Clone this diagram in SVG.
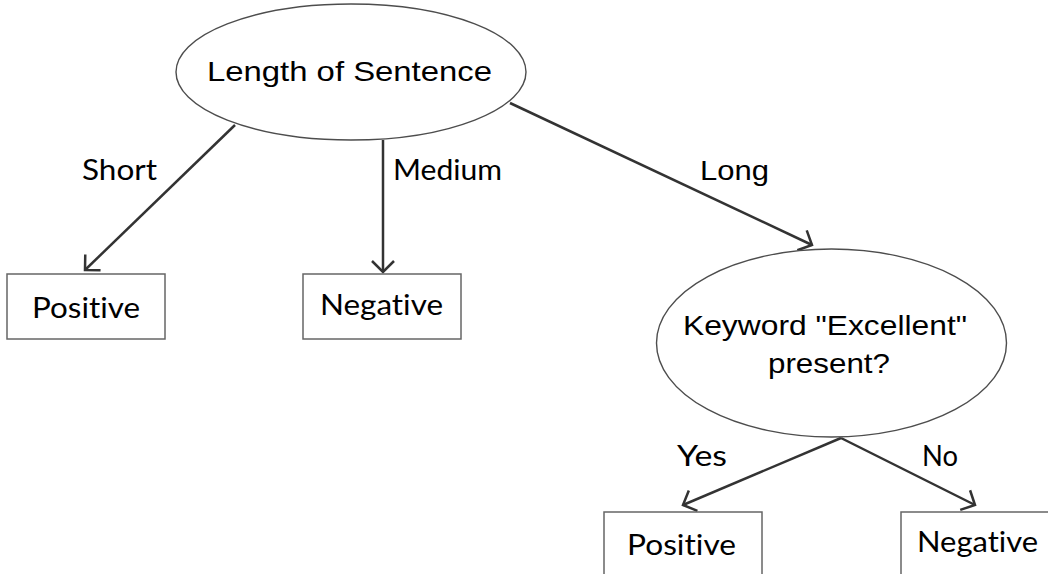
<svg xmlns="http://www.w3.org/2000/svg" width="1048" height="574" viewBox="0 0 1048 574">
  <style>
    .bg { fill: #ffffff; }
    .ell { fill: #ffffff; stroke: #4d4d4d; stroke-width: 1.4; }
    .box { fill: #ffffff; stroke: #666666; stroke-width: 1.5; }
    .edge { fill: none; stroke: #333333; stroke-width: 2.5; }
    .t { font-family: "Liberation Sans", Arial, sans-serif; font-size: 28px; fill: #000000; text-anchor: middle; }
    .r { font-family: Lato, "Liberation Sans", sans-serif; font-size: 28px; fill: #000000; text-anchor: middle; font-variant-ligatures: none; }
  </style>
  <defs>
    <marker id="chev" markerUnits="userSpaceOnUse" markerWidth="30" markerHeight="30" viewBox="-15 -15 30 30" refX="0" refY="0" orient="auto">
      <path d="M-11,-11 L0,0 L-11,11" fill="none" stroke="#333333" stroke-width="2.5" stroke-linejoin="miter"/>
    </marker>
  </defs>
  <rect class="bg" x="0" y="0" width="1048" height="574"/>

  <!-- connectors and their labels -->
  <g id="connectors">
    <line class="edge" x1="235" y1="125" x2="85" y2="270" marker-end="url(#chev)"/>
    <line class="edge" x1="383" y1="140" x2="383" y2="272" marker-end="url(#chev)"/>
    <line class="edge" x1="510" y1="103" x2="812" y2="245" marker-end="url(#chev)"/>
    <line class="edge" x1="841" y1="438" x2="683" y2="505" marker-end="url(#chev)"/>
    <line class="edge" x1="841" y1="438" x2="975" y2="505" marker-end="url(#chev)"/>
    <text class="r" x="119.5" y="180" textLength="75" lengthAdjust="spacingAndGlyphs">Short</text>
    <text class="r" x="447.5" y="180" textLength="109" lengthAdjust="spacingAndGlyphs">Medium</text>
    <text class="t" x="734.5" y="180" textLength="69" lengthAdjust="spacingAndGlyphs">Long</text>
    <text class="r" x="702" y="466" textLength="50" lengthAdjust="spacingAndGlyphs">Yes</text>
    <text class="r" x="940" y="466" textLength="36" lengthAdjust="spacingAndGlyphs">No</text>
  </g>

  <!-- root decision -->
  <g id="root">
    <ellipse class="ell" cx="351" cy="72" rx="175" ry="68"/>
    <text class="t" x="349.5" y="81" textLength="285" lengthAdjust="spacingAndGlyphs">Length of Sentence</text>
  </g>

  <g id="short-positive">
    <rect class="box" x="7" y="274" width="158" height="65"/>
    <text class="r" x="86" y="318" textLength="108" lengthAdjust="spacingAndGlyphs">Positive</text>
  </g>

  <g id="medium-negative">
    <rect class="box" x="303" y="274" width="158" height="65"/>
    <text class="r" x="381.5" y="315" textLength="123" lengthAdjust="spacingAndGlyphs">Negative</text>
  </g>

  <!-- keyword decision -->
  <g id="keyword">
    <ellipse class="ell" cx="831.5" cy="343" rx="175" ry="94"/>
    <text class="t" x="825" y="335" textLength="284" lengthAdjust="spacingAndGlyphs">Keyword "Excellent"</text>
    <text class="t" x="829" y="373" textLength="122" lengthAdjust="spacingAndGlyphs">present?</text>
  </g>

  <g id="yes-positive">
    <rect class="box" x="604" y="512" width="158" height="70"/>
    <text class="r" x="681.5" y="555" textLength="109" lengthAdjust="spacingAndGlyphs">Positive</text>
  </g>

  <g id="no-negative">
    <rect class="box" x="901" y="512" width="158" height="70"/>
    <text class="r" x="977.5" y="552" textLength="121" lengthAdjust="spacingAndGlyphs">Negative</text>
  </g>
</svg>
